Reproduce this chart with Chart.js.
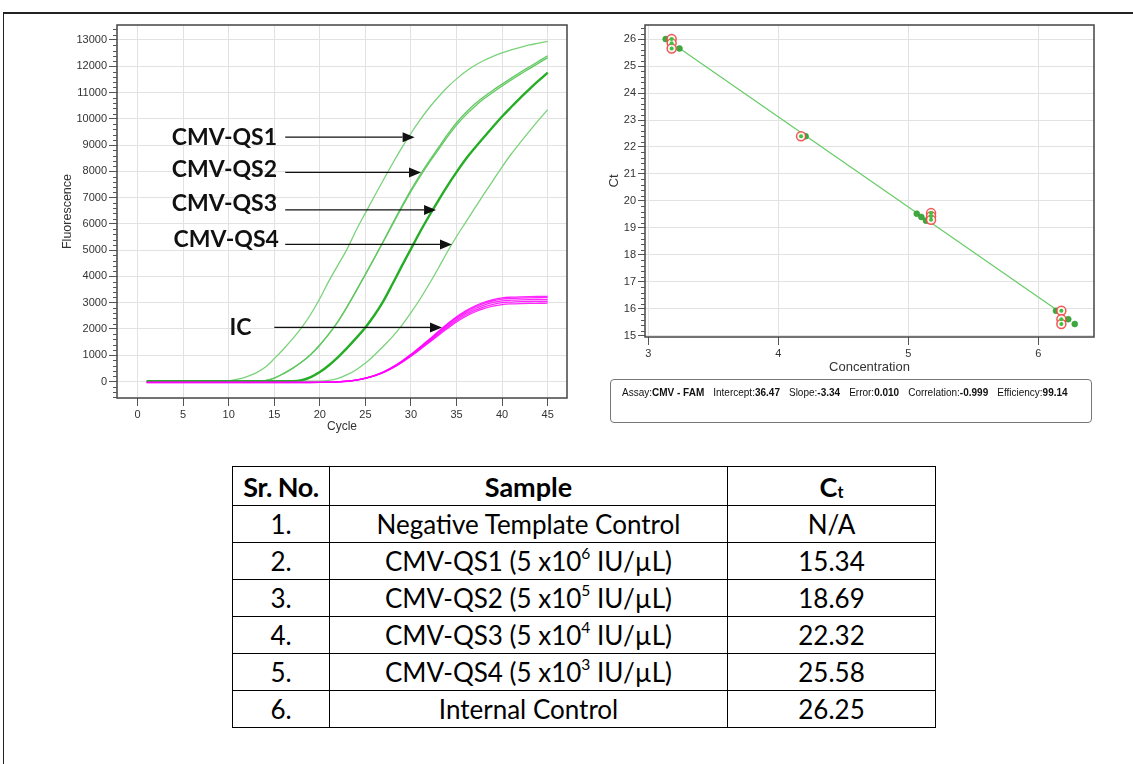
<!DOCTYPE html>
<html>
<head>
<meta charset="utf-8">
<script src="https://cdn.jsdelivr.net/npm/chart.js@4.4.1/dist/chart.umd.min.js"></script>
<style>
  html,body{margin:0;padding:0;background:#fff;}
  body{width:1133px;height:764px;position:relative;overflow:hidden;font-family:'Liberation Sans',Arial,sans-serif;}
  #frame{position:absolute;left:3px;top:12px;width:1200px;height:800px;border-left:1.5px solid #222;border-top:2px solid #222;}
  #w1{position:absolute;left:40px;top:15px;width:540px;height:425px;}
  #w2{position:absolute;left:600px;top:15px;width:505px;height:365px;}
  #fitbox{position:absolute;left:610px;top:379px;width:482px;height:44px;border:1px solid #777;border-radius:4px;box-sizing:border-box;
          font-family:'Liberation Sans',Arial,sans-serif;font-size:10px;color:#111;padding:6px 0 0 11px;line-height:13px;white-space:nowrap;}
  #fitbox span{margin-right:9px;}
  #tbl{position:absolute;left:232px;top:466px;border-collapse:collapse;font-family:Lato,'Noto Sans',sans-serif;font-size:26px;color:#000;}
  #tbl td,#tbl th{border:1.3px solid #000;text-align:center;padding:0;line-height:1;}
  #tbl th{font-weight:700;height:38px;font-size:27px;}
  #tbl th.sr{letter-spacing:-0.5px;font-size:27px;}
  #tbl td{height:36px;}
  #tbl sup{font-size:60%;vertical-align:top;position:relative;top:-2px;}
  #tbl sub{font-size:60%;vertical-align:bottom;position:relative;top:1px;}
</style>
</head>
<body>
<div id="frame"></div>
<div id="w1"><canvas id="c1" width="540" height="425"></canvas></div>
<div id="w2"><canvas id="c2" width="505" height="365"></canvas></div>
<div id="fitbox"></div>
<table id="tbl"></table>
<script>
// ---------------- Amplification plot data ----------------
const cycles = [1,2,3,4,5,6,7,8,9,10,11,12,13,14,15,16,17,18,19,20,21,22,23,24,25,26,27,28,29,30,31,32,33,34,35,36,37,38,39,40,41,42,43,44,45];
const qs1  = [10,10,10,10,10,10,10,10,10,25,90,190,330,540,870,1230,1620,2050,2560,3160,3830,4440,5050,5770,6420,7060,7690,8310,8900,9450,9960,10420,10830,11200,11520,11800,12030,12220,12380,12510,12620,12720,12810,12880,12950];
const qs2a = [10,10,10,10,10,10,10,10,10,10,10,10,10,30,130,300,500,740,1030,1390,1810,2290,2850,3460,4080,4720,5370,6030,6680,7300,7870,8400,8900,9400,9850,10230,10560,10840,11090,11320,11550,11770,11980,12190,12400];
const qs2b = [10,10,10,10,10,10,10,10,10,10,10,10,10,30,130,300,500,740,1030,1390,1810,2290,2850,3460,4080,4700,5340,5990,6630,7240,7800,8330,8820,9310,9760,10140,10470,10760,11010,11250,11480,11700,11910,12120,12330];
const qs3  = [10,10,10,10,10,10,10,10,10,10,10,10,10,10,10,10,10,50,170,360,620,930,1280,1660,2060,2530,3080,3730,4400,5050,5700,6310,6890,7450,7970,8460,8890,9300,9700,10090,10450,10800,11130,11450,11760];
const qs4  = [10,10,10,10,10,10,10,10,10,10,10,10,10,10,10,10,10,10,10,10,40,120,260,450,700,1010,1350,1720,2140,2620,3140,3710,4310,4940,5520,6060,6600,7130,7650,8170,8660,9100,9530,9950,10350];
const ic1  = [-35,-35,-35,-35,-35,-35,-35,-35,-35,-35,-35,-35,-35,-35,-35,-35,-35,-35,-35,-33,-27,-13,12,58,130,233,372,557,783,1040,1318,1607,1905,2194,2460,2688,2873,3017,3120,3183,3210,3225,3233,3238,3240];
const ic2  = [-35,-35,-35,-35,-35,-35,-35,-35,-35,-35,-35,-35,-35,-35,-35,-35,-35,-35,-35,-34,-28,-14,11,56,127,228,365,548,771,1025,1300,1584,1877,2162,2425,2648,2830,2972,3074,3136,3162,3176,3184,3188,3190];
const ic3  = [-35,-35,-35,-35,-35,-35,-35,-35,-35,-35,-35,-35,-35,-35,-35,-35,-35,-35,-35,-35,-28,-15,10,55,125,224,358,537,755,1003,1273,1550,1837,2115,2373,2591,2769,2908,3008,3068,3094,3108,3115,3118,3120];
const ic4  = [-38,-38,-38,-38,-38,-38,-38,-38,-38,-38,-38,-38,-38,-38,-38,-38,-38,-38,-38,-36,-29,-16,9,53,122,219,350,525,738,981,1244,1516,1796,2068,2320,2533,2707,2843,2940,2999,3024,3038,3045,3048,3050];
const ic5  = [-40,-40,-40,-40,-40,-40,-40,-40,-40,-40,-40,-40,-40,-40,-40,-40,-40,-40,-40,-37,-30,-17,8,52,119,214,342,513,721,958,1216,1481,1755,2020,2267,2475,2645,2778,2873,2930,2955,2968,2975,2978,2980];
const cycleTicks = [0,5,10,15,20,25,30,35,40,45];
const fluorTicks = [0,1000,2000,3000,4000,5000,6000,7000,8000,9000,10000,11000,12000,13000];
const fluorMinor = [-600,-400,-200,200,400,600,800,1200,1400,1600,1800,2200,2400,2600,2800,3200,3400,3600,3800,4200,4400,4600,4800,5200,5400,5600,5800,6200,6400,6600,6800,7200,7400,7600,7800,8200,8400,8600,8800,9200,9400,9600,9800,10200,10400,10600,10800,11200,11400,11600,11800,12200,12400,12600,12800,13200,13400];
// annotation labels (data coordinates: cycle, fluorescence)
const labelArrows = [
  {text:'CMV-QS1', tx:15.3, ty:9270, x0:16.2, x1:30.4, y:9300},
  {text:'CMV-QS2', tx:15.3, ty:8050, x0:16.2, x1:31.1, y:7960},
  {text:'CMV-QS3', tx:15.3, ty:6780, x0:16.2, x1:32.75, y:6530},
  {text:'CMV-QS4', tx:15.5, ty:5410, x0:16.2, x1:34.5, y:5220},
  {text:'IC',      tx:12.5, ty:2040, x0:15.0, x1:33.4, y:2060}
];

// ---------------- Standard curve data ----------------
const stdConc     = [3.134, 3.24, 4.21, 5.065, 5.10, 5.136, 6.136, 6.23, 6.28];
const stdCt       = [26.0, 25.65, 22.4, 19.53, 19.41, 19.27, 15.93, 15.62, 15.44];
const selConc     = [3.18, 3.18, 3.18, 4.175, 5.175, 5.175, 5.175, 6.177, 6.177, 6.177];
const selCt       = [26.0, 25.84, 25.65, 22.4, 19.55, 19.43, 19.30, 15.93, 15.62, 15.44];
const fitConc     = [3.22, 6.14];
const fitCt       = [25.72, 15.97];
const concTicks   = [3,4,5,6];
const ctTicks     = [15,16,17,18,19,20,21,22,23,24,25,26];
const ctMinor     = [15.2,15.4,15.6,15.8,16.2,16.4,16.6,16.8,17.2,17.4,17.6,17.8,18.2,18.4,18.6,18.8,19.2,19.4,19.6,19.8,20.2,20.4,20.6,20.8,21.2,21.4,21.6,21.8,22.2,22.4,22.6,22.8,23.2,23.4,23.6,23.8,24.2,24.4,24.6,24.8,25.2,25.4,25.6,25.8,26.2,26.4];
const fitInfo = [['Assay:','CMV - FAM'],['Intercept:','36.47'],['Slope:','-3.34'],['Error:','0.010'],['Correlation:','-0.999'],['Efficiency:','99.14']];

// ---------------- Table data ----------------
const tblHeader = ['Sr. No.', 'Sample', 'C<sub>t</sub>'];
const tblSr     = ['1.', '2.', '3.', '4.', '5.', '6.'];
const tblSample = ['Negative Template Control', 'CMV-QS1 (5 x10<sup>6</sup> IU/µL)', 'CMV-QS2 (5 x10<sup>5</sup> IU/µL)',
                   'CMV-QS3 (5 x10<sup>4</sup> IU/µL)', 'CMV-QS4 (5 x10<sup>3</sup> IU/µL)', 'Internal Control'];
const tblCt     = ['N/A', '15.34', '18.69', '22.32', '25.58', '26.25'];
const tblColW   = [96, 397, 207];

// ---------------- build HTML parts ----------------
document.getElementById('fitbox').innerHTML = fitInfo.map(p => '<span>' + p[0] + '<b>' + p[1] + '</b></span>').join('');
(function(){
  const t = document.getElementById('tbl');
  let h = '<tr>' + tblHeader.map((s,i)=>'<th'+(i===0?' class="sr"':'')+' style="width:'+tblColW[i]+'px">'+s+'</th>').join('') + '</tr>';
  for (let i=0;i<tblSr.length;i++) h += '<tr><td>'+tblSr[i]+'</td><td>'+tblSample[i]+'</td><td>'+tblCt[i]+'</td></tr>';
  t.innerHTML = h;
})();

// ---------------- plugins ----------------
const framePlugin = {
  id:'frame',
  afterDraw(chart, args, opts){
    const {left,top,right,bottom} = chart.chartArea, ctx = chart.ctx;
    ctx.save(); ctx.strokeStyle = opts.color || '#444'; ctx.lineWidth = opts.width || 1.5;
    ctx.strokeRect(left, top, right-left, bottom-top); ctx.restore();
  }
};
const minorPlugin = {
  id:'minorTicks',
  afterDraw(chart, args, opts){
    const s = chart.scales[opts.scaleId], ctx = chart.ctx, left = chart.chartArea.left;
    ctx.save(); ctx.strokeStyle = opts.color; ctx.lineWidth = 1;
    opts.values.forEach(v => {
      const y = Math.round(s.getPixelForValue(v)) + 0.5;
      ctx.beginPath(); ctx.moveTo(left - opts.length, y); ctx.lineTo(left, y); ctx.stroke();
    });
    ctx.restore();
  }
};
const arrowPlugin = {
  id:'arrows',
  afterDatasetsDraw(chart, args, opts){
    const xs = chart.scales.x, ys = chart.scales.y, ctx = chart.ctx;
    ctx.save();
    opts.items.forEach(a => {
      ctx.font = opts.font; ctx.fillStyle = '#111'; ctx.textAlign = 'right'; ctx.textBaseline = 'middle';
      ctx.fillText(a.text, xs.getPixelForValue(a.tx), ys.getPixelForValue(a.ty));
      const x0 = xs.getPixelForValue(a.x0), x1 = xs.getPixelForValue(a.x1), y = ys.getPixelForValue(a.y);
      ctx.strokeStyle = '#111'; ctx.lineWidth = 1.2;
      ctx.beginPath(); ctx.moveTo(x0, y); ctx.lineTo(x1 - opts.head, y); ctx.stroke();
      ctx.beginPath(); ctx.moveTo(x1, y); ctx.lineTo(x1 - opts.head, y - opts.half); ctx.lineTo(x1 - opts.head, y + opts.half); ctx.closePath(); ctx.fill();
    });
    ctx.restore();
  }
};

Chart.defaults.font.family = "'Liberation Sans', Arial, sans-serif";
Chart.defaults.color = '#333';

const toXY = (xs, ys) => ys.map((v,i) => ({x: xs[i], y: v}));
const ampLine = (label, arr, color, w) => ({label, data: toXY(cycles, arr), borderColor: color, borderWidth: w,
  pointRadius: 0, fill: false, cubicInterpolationMode: 'monotone'});

new Chart(document.getElementById('c1'), {
  type: 'line',
  data: { datasets: [
    ampLine('IC1', ic1, 'rgba(255,0,255,0.85)', 1.3),
    ampLine('IC2', ic2, 'rgba(255,0,255,0.85)', 1.3),
    ampLine('IC3', ic3, 'rgba(255,0,255,0.85)', 1.3),
    ampLine('IC4', ic4, 'rgba(255,0,255,0.85)', 1.3),
    ampLine('IC5', ic5, 'rgba(255,0,255,0.85)', 1.3),
    ampLine('CMV-QS3', qs3, '#26ad26', 2.4),
    ampLine('CMV-QS2a', qs2a, '#62c862', 1.3),
    ampLine('CMV-QS2b', qs2b, '#62c862', 1.3),
    ampLine('CMV-QS1', qs1, '#7ad27a', 1.3),
    ampLine('CMV-QS4', qs4, '#7ad27a', 1.3)
  ]},
  options: {
    responsive: false, animation: false, devicePixelRatio: 1,
    layout: { padding: {top: 10, right: 13, left: 0, bottom: 0} },
    plugins: {
      legend: {display: false}, tooltip: {enabled: false},
      frame: {color: '#444', width: 1.5},
      minorTicks: {scaleId: 'y', values: fluorMinor, length: 4, color: '#555'},
      arrows: {items: labelArrows, font: "bold 23px Lato, 'Noto Sans', sans-serif", head: 12, half: 5}
    },
    scales: {
      x: { type: 'linear', min: -2.26, max: 47.12,
        afterBuildTicks: s => { s.ticks = cycleTicks.map(v => ({value: v})); },
        afterFit: s => { s.height = 42; },
        grid: {color: '#e2e2e2', lineWidth: 1, tickColor: '#555', tickLength: 8},
        border: {display: false},
        ticks: {color: '#333', font: {size: 11}, padding: 2, maxRotation: 0, autoSkip: false, callback: v => String(v)},
        title: {display: true, text: 'Cycle', color: '#333', font: {size: 12}, padding: {top: 0, bottom: 5.8}}
      },
      y: { type: 'linear', min: -628, max: 13571,
        afterBuildTicks: s => { s.ticks = fluorTicks.map(v => ({value: v})); },
        afterFit: s => { s.width = 77; },
        grid: {color: '#e2e2e2', lineWidth: 1, tickColor: '#555', tickLength: 8},
        border: {display: false},
        ticks: {color: '#333', font: {size: 11}, padding: 2, autoSkip: false, callback: v => String(v)},
        title: {display: true, text: 'Fluorescence', color: '#333', font: {size: 12.5}, padding: {top: 20.5, bottom: 0}}
      }
    }
  },
  plugins: [framePlugin, minorPlugin, arrowPlugin]
});

new Chart(document.getElementById('c2'), {
  type: 'scatter',
  data: { datasets: [
    {label: 'sel-center', data: toXY(selConc, selCt), pointRadius: 2, pointBackgroundColor: '#3cc43c', pointBorderWidth: 0, order: 0},
    {label: 'sel-ring', data: toXY(selConc, selCt), pointRadius: 4.5, pointBackgroundColor: '#fff5f5', pointBorderColor: 'rgba(240,70,70,0.9)', pointBorderWidth: 1.5, order: 1},
    {label: 'standards', data: toXY(stdConc, stdCt), pointRadius: 3, pointBackgroundColor: '#3ea83e', pointBorderColor: '#2f962f', pointBorderWidth: 0.5, order: 2},
    {label: 'fit', type: 'line', data: toXY(fitConc, fitCt), borderColor: '#66cc66', borderWidth: 1.2, pointRadius: 0, showLine: true, fill: false, order: 3}
  ]},
  options: {
    responsive: false, animation: false, devicePixelRatio: 1,
    layout: { padding: {top: 10, right: 11, left: 0, bottom: 0} },
    plugins: {
      legend: {display: false}, tooltip: {enabled: false},
      frame: {color: '#444', width: 1.5},
      minorTicks: {scaleId: 'y', values: ctMinor, length: 4, color: '#555'}
    },
    scales: {
      x: { type: 'linear', min: 2.975, max: 6.428,
        afterBuildTicks: s => { s.ticks = concTicks.map(v => ({value: v})); },
        afterFit: s => { s.height = 43; },
        grid: {color: '#e2e2e2', lineWidth: 1, tickColor: '#555', tickLength: 8},
        border: {display: false},
        ticks: {color: '#333', font: {size: 11}, padding: 2, maxRotation: 0, autoSkip: false, callback: v => String(v)},
        title: {display: true, text: 'Concentration', color: '#333', font: {size: 13}, padding: {top: 0, bottom: 5.2}}
      },
      y: { type: 'linear', min: 14.96, max: 26.52,
        afterBuildTicks: s => { s.ticks = ctTicks.map(v => ({value: v})); },
        afterFit: s => { s.width = 45; },
        grid: {color: '#e2e2e2', lineWidth: 1, tickColor: '#555', tickLength: 7},
        border: {display: false},
        ticks: {color: '#333', font: {size: 11}, padding: 2, autoSkip: false, callback: v => String(v)},
        title: {display: true, text: 'Ct', color: '#333', font: {size: 13}, padding: {top: 7, bottom: 0}}
      }
    }
  },
  plugins: [framePlugin, minorPlugin]
});
</script>
</body>
</html>
